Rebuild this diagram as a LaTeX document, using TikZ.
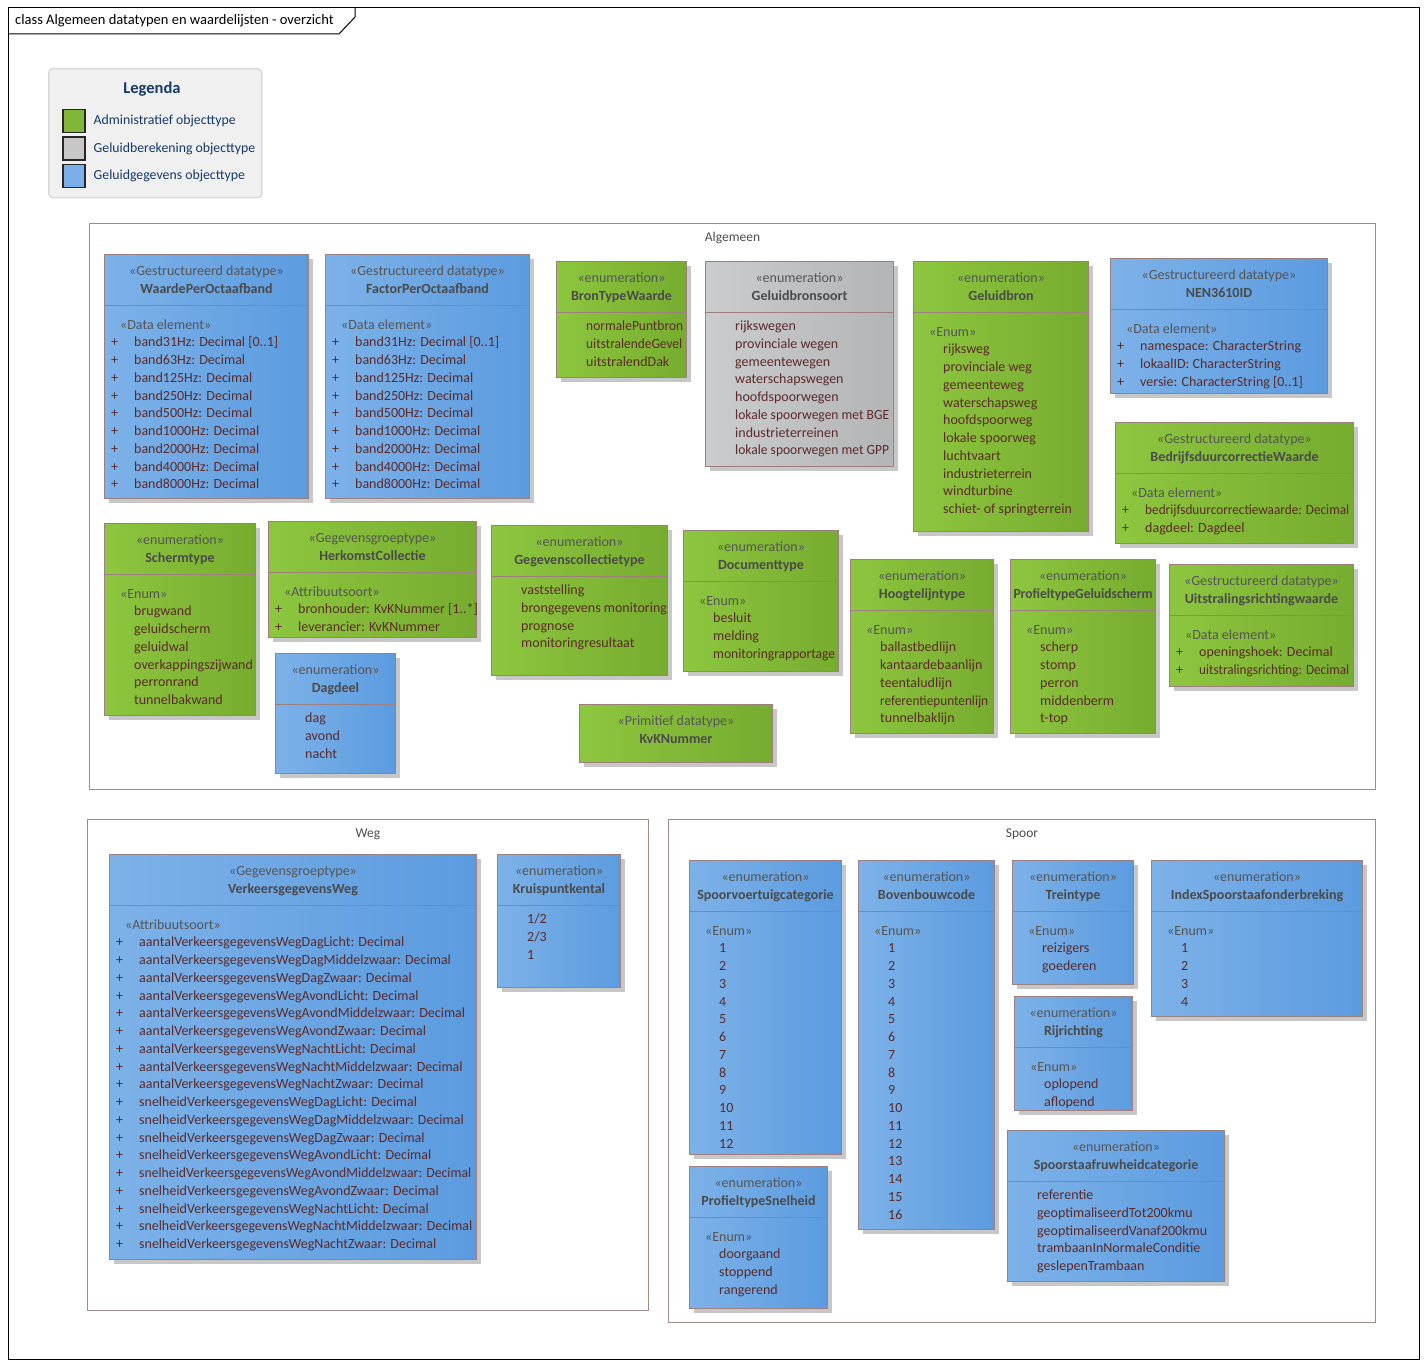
\documentclass[tikz,border=0pt]{standalone}
\usepackage{fontspec}
\setmainfont{Carlito}
\usetikzlibrary{positioning,calc,shadows}

\definecolor{greenL}{HTML}{8DC63F}
\definecolor{greenR}{HTML}{76AC2F}
\definecolor{blueL}{HTML}{7DB2E8}
\definecolor{blueR}{HTML}{5B9BDF}
\definecolor{grayL}{HTML}{CBCCCE}
\definecolor{grayR}{HTML}{B3B4B6}
\definecolor{edge}{HTML}{9E7E7E}
\definecolor{stereo}{HTML}{555555}
\definecolor{nametext}{HTML}{4A4A4A}
\definecolor{valtext}{HTML}{5C2A2A}
\definecolor{legtext}{HTML}{15396A}
\definecolor{pkgedge}{HTML}{A08A8A}

\tikzstyle{umlbox} = [rectangle, draw=edge, line width=1pt, inner sep=0pt, drop shadow={shadow xshift=4pt, shadow yshift=-4pt, fill=black!22, opacity=1}]
\tikzstyle{greenclass} = [umlbox, left color=greenL, right color=greenR]
\tikzstyle{blueclass} = [umlbox, left color=blueL, right color=blueR]
\tikzstyle{grayclass} = [umlbox, left color=grayL, right color=grayR]
\tikzstyle{sepline} = [draw=edge, line width=1pt]
\tikzstyle{headtext} = [anchor=base, align=center, inner sep=0pt, font=\fontsize{14}{18}\selectfont]
\tikzstyle{bodytext} = [anchor=north west, align=left, inner sep=0pt, text=valtext, font=\fontsize{14}{17.75}\selectfont]
\tikzstyle{package} = [rectangle, draw=pkgedge, line width=1pt, anchor=north west, inner sep=0pt]
\tikzstyle{pkglabel} = [anchor=base, inner sep=0pt, text=black!70, font=\fontsize{13.5}{16}\selectfont]
\tikzstyle{legbox} = [rectangle, draw=black!85, line width=1.5pt, minimum width=22, minimum height=23, inner sep=0pt]
\tikzstyle{legtext} = [inner sep=0pt, text=legtext, font=\fontsize{13.8}{16}\selectfont]

% class box with header (stereotype + name) and separator
\newcommand{\umlclass}[8]{%
  \node (#1) [#2, minimum width=#5-#3, minimum height=#6-#4, anchor=north west] at (#3,#4) {};
  \node (#1-head) [headtext] at ($(#1.north)+(0,39)$) {{\color{stereo}«#7»}\\{\color{nametext}\bfseries #8}};
  \draw [sepline] ($(#1.north west)+(0,51)$) -- ($(#1.north east)+(0,51)$);}
% body lines: stereotype, attribute, enum value
\newcommand{\stl}[1]{\rule{0pt}{13pt}\hspace*{9pt}{\color{stereo}«#1»}}
\newcommand{\atr}[1]{\rule{0pt}{13pt}\makebox[23pt][l]{+}#1}
\newcommand{\val}[1]{\rule{0pt}{13pt}\hspace*{23pt}#1}
\newcommand{\squeeze}[2]{\resizebox{#1}{\height}{#2}}

\begin{document}
\begin{tikzpicture}[x=1pt, y=-1pt]
\useasboundingbox (0,0) rectangle (1427,1367);

% diagram frame
\draw [black, line width=1pt] (8,8) rectangle (1419,1359);
\draw [black, line width=1pt] (8,34) -- (339,34) -- (355,17) -- (355,8);
\node (title) [anchor=base west, inner sep=0pt, font=\fontsize{14.5}{16}\selectfont] at (15,25) {class Algemeen datatypen en waardelijsten - overzicht};

% legenda
\node (legenda) [rectangle, rounded corners=4pt, draw=black!15, line width=1.5pt, fill=black!6, minimum width=213, minimum height=129, anchor=north west] at (48,68) {};
\node (legenda-title) [anchor=center, inner sep=0pt, text=legtext, font=\fontsize{16.5}{18}\selectfont\bfseries] at (152,89) {Legenda};
\node (legA) [legbox, fill=greenL!92!black, anchor=north west] at (62,109) {};
\node (legB) [legbox, fill=black!22, below=3pt of legA] {};
\node (legC) [legbox, fill=blueL!90!blueR, below=3pt of legB] {};
\node (legA-txt) [legtext, anchor=west, right=8pt of legA] {Administratief objecttype};
\node (legB-txt) [legtext, anchor=west, right=8pt of legB] {Geluidberekening objecttype};
\node (legC-txt) [legtext, anchor=west, right=8pt of legC] {Geluidgegevens objecttype};

% packages
\node (alg) [package, minimum width=1286, minimum height=566] at (89,223) {};
\node (alg-name) [pkglabel] at ($(alg.north)+(0,18)$) {Algemeen};
\node (weg) [package, minimum width=561, minimum height=491] at (87,819) {};
\node (weg-name) [pkglabel] at ($(weg.north)+(0,18)$) {Weg};
\node (spoor) [package, minimum width=707, minimum height=503] at (668,819) {};
\node (spoor-name) [pkglabel] at ($(spoor.north)+(0,18)$) {Spoor};

% Algemeen
\umlclass{waarde}{blueclass}{104}{254}{308}{498}{Gestructureerd datatype}{WaardePerOctaafband}
\node (waarde-body) [bodytext] at ($(waarde.north west)+(7,62)$) {\stl{Data element}\\\atr{band31Hz: Decimal [0..1]}\\\atr{band63Hz: Decimal}\\\atr{band125Hz: Decimal}\\\atr{band250Hz: Decimal}\\\atr{band500Hz: Decimal}\\\atr{band1000Hz: Decimal}\\\atr{band2000Hz: Decimal}\\\atr{band4000Hz: Decimal}\\\atr{band8000Hz: Decimal}};

\umlclass{factor}{blueclass}{325}{254}{529}{498}{Gestructureerd datatype}{FactorPerOctaafband}
\node (factor-body) [bodytext] at ($(factor.north west)+(7,62)$) {\stl{Data element}\\\atr{band31Hz: Decimal [0..1]}\\\atr{band63Hz: Decimal}\\\atr{band125Hz: Decimal}\\\atr{band250Hz: Decimal}\\\atr{band500Hz: Decimal}\\\atr{band1000Hz: Decimal}\\\atr{band2000Hz: Decimal}\\\atr{band4000Hz: Decimal}\\\atr{band8000Hz: Decimal}};

\umlclass{brontype}{greenclass}{556}{261}{686}{377}{enumeration}{BronTypeWaarde}
\node (brontype-body) [bodytext] at ($(brontype.north west)+(7,56.5)$) {\val{\squeeze{97pt}{normalePuntbron}}\\\val{\squeeze{96pt}{uitstralendeGevel}}\\\val{uitstralendDak}};

\umlclass{bronsoort}{grayclass}{705}{261}{893}{466}{enumeration}{Geluidbronsoort}
\node (bronsoort-body) [bodytext] at ($(bronsoort.north west)+(7,56.5)$) {\val{rijkswegen}\\\val{provinciale wegen}\\\val{gemeentewegen}\\\val{waterschapswegen}\\\val{hoofdspoorwegen}\\\val{\squeeze{154pt}{lokale spoorwegen met BGE}}\\\val{industrieterreinen}\\\val{\squeeze{154pt}{lokale spoorwegen met GPP}}};

\umlclass{geluidbron}{greenclass}{913}{261}{1088}{531}{enumeration}{Geluidbron}
\node (geluidbron-body) [bodytext] at ($(geluidbron.north west)+(7,62)$) {\stl{Enum}\\\val{rijksweg}\\\val{provinciale weg}\\\val{gemeenteweg}\\\val{waterschapsweg}\\\val{hoofdspoorweg}\\\val{lokale spoorweg}\\\val{luchtvaart}\\\val{industrieterrein}\\\val{windturbine}\\\val{schiet- of springterrein}};

\umlclass{nen}{blueclass}{1110}{258}{1327}{393}{Gestructureerd datatype}{NEN3610ID}
\node (nen-body) [bodytext] at ($(nen.north west)+(7,62)$) {\stl{Data element}\\\atr{namespace: CharacterString}\\\atr{lokaalID: CharacterString}\\\atr{versie: CharacterString [0..1]}};

\umlclass{bedrijf}{greenclass}{1115}{422}{1353}{543}{Gestructureerd datatype}{BedrijfsduurcorrectieWaarde}
\node (bedrijf-body) [bodytext] at ($(bedrijf.north west)+(7,62)$) {\stl{Data element}\\\atr{\squeeze{204pt}{bedrijfsduurcorrectiewaarde: Decimal}}\\\atr{dagdeel: Dagdeel}};

\umlclass{scherm}{greenclass}{104}{523}{255}{715}{enumeration}{Schermtype}
\node (scherm-body) [bodytext] at ($(scherm.north west)+(7,62)$) {\stl{Enum}\\\val{brugwand}\\\val{geluidscherm}\\\val{geluidwal}\\\val{overkappingszijwand}\\\val{perronrand}\\\val{tunnelbakwand}};

\umlclass{herkomst}{greenclass}{268}{521}{476}{637}{Gegevensgroeptype}{HerkomstCollectie}
\node (herkomst-body) [bodytext] at ($(herkomst.north west)+(7,62)$) {\stl{Attribuutsoort}\\\atr{bronhouder: KvKNummer [1..*]}\\\atr{leverancier: KvKNummer}};

\umlclass{dagdeel}{blueclass}{275}{653}{395}{773}{enumeration}{Dagdeel}
\node (dagdeel-body) [bodytext] at ($(dagdeel.north west)+(7,56.5)$) {\val{dag}\\\val{avond}\\\val{nacht}};

\umlclass{gegcoll}{greenclass}{491}{525}{667}{675}{enumeration}{Gegevenscollectietype}
\node (gegcoll-body) [bodytext] at ($(gegcoll.north west)+(7,56.5)$) {\val{vaststelling}\\\val{brongegevens monitoring}\\\val{prognose}\\\val{monitoringresultaat}};

\umlclass{doctype}{greenclass}{683}{530}{838}{671}{enumeration}{Documenttype}
\node (doctype-body) [bodytext] at ($(doctype.north west)+(7,62)$) {\stl{Enum}\\\val{besluit}\\\val{melding}\\\val{\squeeze{122pt}{monitoringrapportage}}};

% KvKNummer has no attribute part
\node (kvk) [greenclass, minimum width=193, minimum height=58, anchor=north west] at (579,704) {};
\node (kvk-head) [headtext] at ($(kvk.north)+(0,39)$) {{\color{stereo}«Primitief datatype»}\\{\color{nametext}\bfseries KvKNummer}};

\umlclass{hoogte}{greenclass}{850}{559}{993}{733}{enumeration}{Hoogtelijntype}
\node (hoogte-body) [bodytext] at ($(hoogte.north west)+(7,62)$) {\stl{Enum}\\\val{ballastbedlijn}\\\val{kantaardebaanlijn}\\\val{teentaludlijn}\\\val{\squeeze{108pt}{referentiepuntenlijn}}\\\val{tunnelbaklijn}};

\umlclass{profgs}{greenclass}{1010}{559}{1155}{733}{enumeration}{\squeeze{139pt}{ProfieltypeGeluidscherm}}
\node (profgs-body) [bodytext] at ($(profgs.north west)+(7,62)$) {\stl{Enum}\\\val{scherp}\\\val{stomp}\\\val{perron}\\\val{middenberm}\\\val{t-top}};

\umlclass{uitstr}{greenclass}{1169}{564}{1353}{686}{Gestructureerd datatype}{Uitstralingsrichtingwaarde}
\node (uitstr-body) [bodytext] at ($(uitstr.north west)+(7,62)$) {\stl{Data element}\\\atr{openingshoek: Decimal}\\\atr{\squeeze{150pt}{uitstralingsrichting: Decimal}}};

% Weg
\umlclass{verkeer}{blueclass}{109}{854}{476}{1259}{Gegevensgroeptype}{VerkeersgegevensWeg}
\node (verkeer-body) [bodytext] at ($(verkeer.north west)+(7,62)$) {\stl{Attribuutsoort}\\
\atr{aantalVerkeersgegevensWegDagLicht: Decimal}\\\atr{aantalVerkeersgegevensWegDagMiddelzwaar: Decimal}\\\atr{aantalVerkeersgegevensWegDagZwaar: Decimal}\\
\atr{aantalVerkeersgegevensWegAvondLicht: Decimal}\\\atr{aantalVerkeersgegevensWegAvondMiddelzwaar: Decimal}\\\atr{aantalVerkeersgegevensWegAvondZwaar: Decimal}\\
\atr{aantalVerkeersgegevensWegNachtLicht: Decimal}\\\atr{aantalVerkeersgegevensWegNachtMiddelzwaar: Decimal}\\\atr{aantalVerkeersgegevensWegNachtZwaar: Decimal}\\
\atr{snelheidVerkeersgegevensWegDagLicht: Decimal}\\\atr{snelheidVerkeersgegevensWegDagMiddelzwaar: Decimal}\\\atr{snelheidVerkeersgegevensWegDagZwaar: Decimal}\\
\atr{snelheidVerkeersgegevensWegAvondLicht: Decimal}\\\atr{\squeeze{332pt}{snelheidVerkeersgegevensWegAvondMiddelzwaar: Decimal}}\\\atr{snelheidVerkeersgegevensWegAvondZwaar: Decimal}\\
\atr{snelheidVerkeersgegevensWegNachtLicht: Decimal}\\\atr{\squeeze{333pt}{snelheidVerkeersgegevensWegNachtMiddelzwaar: Decimal}}\\\atr{snelheidVerkeersgegevensWegNachtZwaar: Decimal}};

\umlclass{kruis}{blueclass}{497}{854}{620}{987}{enumeration}{Kruispuntkental}
\node (kruis-body) [bodytext] at ($(kruis.north west)+(7,56.5)$) {\val{1/2}\\\val{2/3}\\\val{1}};

% Spoor
\umlclass{spvoer}{blueclass}{689}{860}{841}{1154}{enumeration}{Spoorvoertuigcategorie}
\node (spvoer-body) [bodytext] at ($(spvoer.north west)+(7,62)$) {\stl{Enum}\\\val{1}\\\val{2}\\\val{3}\\\val{4}\\\val{5}\\\val{6}\\\val{7}\\\val{8}\\\val{9}\\\val{10}\\\val{11}\\\val{12}};

\umlclass{bovenb}{blueclass}{858}{860}{994}{1229}{enumeration}{Bovenbouwcode}
\node (bovenb-body) [bodytext] at ($(bovenb.north west)+(7,62)$) {\stl{Enum}\\\val{1}\\\val{2}\\\val{3}\\\val{4}\\\val{5}\\\val{6}\\\val{7}\\\val{8}\\\val{9}\\\val{10}\\\val{11}\\\val{12}\\\val{13}\\\val{14}\\\val{15}\\\val{16}};

\umlclass{trein}{blueclass}{1012}{860}{1133}{984}{enumeration}{Treintype}
\node (trein-body) [bodytext] at ($(trein.north west)+(7,62)$) {\stl{Enum}\\\val{reizigers}\\\val{goederen}};

\umlclass{index}{blueclass}{1151}{860}{1362}{1016}{enumeration}{IndexSpoorstaafonderbreking}
\node (index-body) [bodytext] at ($(index.north west)+(7,62)$) {\stl{Enum}\\\val{1}\\\val{2}\\\val{3}\\\val{4}};

\umlclass{rijr}{blueclass}{1014}{996}{1132}{1110}{enumeration}{Rijrichting}
\node (rijr-body) [bodytext] at ($(rijr.north west)+(7,62)$) {\stl{Enum}\\\val{oplopend}\\\val{aflopend}};

\umlclass{profsn}{blueclass}{689}{1166}{827}{1308}{enumeration}{ProfieltypeSnelheid}
\node (profsn-body) [bodytext] at ($(profsn.north west)+(7,62)$) {\stl{Enum}\\\val{doorgaand}\\\val{stoppend}\\\val{rangerend}};

\umlclass{ruw}{blueclass}{1007}{1130}{1224}{1281}{enumeration}{Spoorstaafruwheidcategorie}
\node (ruw-body) [bodytext] at ($(ruw.north west)+(7,56.5)$) {\val{referentie}\\\val{geoptimaliseerdTot200kmu}\\\val{geoptimaliseerdVanaf200kmu}\\\val{trambaanInNormaleConditie}\\\val{geslepenTrambaan}};

\end{tikzpicture}
\end{document}
